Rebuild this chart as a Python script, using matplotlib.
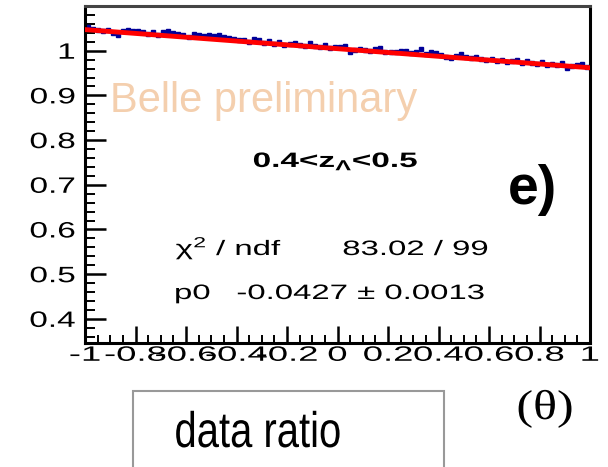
import numpy as np
import matplotlib
matplotlib.use('Agg')
import matplotlib.pyplot as plt
from matplotlib.ticker import MultipleLocator, FixedLocator, FuncFormatter
from matplotlib.patches import Rectangle
from matplotlib.patheffects import AbstractPathEffect
from matplotlib.transforms import Affine2D

plt.rcParams['font.family'] = ['Liberation Sans', 'DejaVu Sans']
plt.rcParams['mathtext.fontset'] = 'custom'
plt.rcParams['mathtext.rm'] = 'Liberation Sans'
plt.rcParams['mathtext.it'] = 'Liberation Sans:italic'
plt.rcParams['mathtext.bf'] = 'Liberation Sans:bold'

# bins en cos(theta)
x_lo = -1.0
x_hi = 1.0
n_bins = 100
ratio = [
    1.052, 1.049, 1.047, 1.045, 1.046, 1.040, 1.036, 1.045, 1.047, 1.043,
    1.044, 1.041, 1.038, 1.042, 1.034, 1.041, 1.043, 1.040, 1.038, 1.036,
    1.030, 1.037, 1.035, 1.033, 1.036, 1.032, 1.034, 1.031, 1.029, 1.026,
    1.025, 1.023, 1.020, 1.027, 1.024, 1.018, 1.021, 1.016, 1.020, 1.012,
    1.014, 1.017, 1.013, 1.010, 1.018, 1.011, 1.009, 1.012, 1.006, 1.008,
    1.009, 1.011, 0.996, 1.002, 1.004, 1.001, 0.999, 1.003, 1.005, 0.997,
    0.998, 0.996, 1.000, 0.999, 0.995, 0.997, 1.003, 0.993, 0.998, 0.994,
    0.990, 0.985, 0.984, 0.989, 0.992, 0.987, 0.983, 0.985, 0.981, 0.980,
    0.982, 0.976, 0.979, 0.975, 0.977, 0.980, 0.973, 0.976, 0.972, 0.970,
    0.974, 0.968, 0.971, 0.969, 0.972, 0.961, 0.966, 0.968, 0.970, 0.963,
]
ratio_err = 0.0035
y_ticks = [0.4, 0.5, 0.6, 0.7, 0.8, 0.9, 1.0]
x_ticks = [-1.0, -0.8, -0.6, -0.4, -0.2, 0.0, 0.2, 0.4, 0.6, 0.8, 1.0]

# parametres du fit
fit_const = 1.0045
fit_p0 = -0.0427
fit_p0_err = 0.0013
chi2 = 83.02
ndf = 99

W, H = 608, 467


class Stretch(AbstractPathEffect):
    # etire le texte horizontalement (le canevas d'origine etait etire)
    def __init__(self, sx, anchor='center'):
        super().__init__()
        self.sx = sx
        self.anchor = anchor

    def draw_path(self, renderer, gc, tpath, affine, rgbFace=None):
        ext = tpath.get_extents()
        if self.anchor == 'left':
            cx = ext.x0
        elif self.anchor == 'right':
            cx = ext.x1
        else:
            cx = 0.5 * (ext.x0 + ext.x1)
        t = Affine2D().translate(-cx, 0).scale(self.sx, 1).translate(cx, 0) + affine
        renderer.draw_path(gc, tpath, t, rgbFace)


def ftext(x, y, s, **kw):
    # position en pixels de l'image de reference
    return fig.text(x / W, 1 - y / H, s, **kw)


fig = plt.figure(figsize=(W / 100, H / 100), dpi=100)
ax = fig.add_axes([85 / W, (H - 343) / H, 505 / W, 337 / H])

edges = np.linspace(x_lo, x_hi, n_bins + 1)
centers = 0.5 * (edges[:-1] + edges[1:])
half_w = 0.5 * (edges[1] - edges[0])

ax.errorbar(centers, ratio, yerr=ratio_err, xerr=half_w * 0.7, fmt='s', ms=2.5,
            color='#000099', ecolor='#000099', elinewidth=1.2, capsize=0, zorder=2)

xf = np.array([x_lo, x_hi])
ax.plot(xf, fit_const + fit_p0 * xf, color='#ff0000', lw=3.5, zorder=3)

ax.set_xlim(x_lo, x_hi)
ax.set_ylim(0.346, 1.10)

ax.xaxis.set_major_locator(FixedLocator(x_ticks))
ax.xaxis.set_minor_locator(MultipleLocator(0.05))
ax.yaxis.set_major_locator(FixedLocator(y_ticks))
ax.yaxis.set_minor_locator(MultipleLocator(0.02))
ax.xaxis.set_major_formatter(FuncFormatter(lambda v, p: '%g' % round(v, 2)))
ax.yaxis.set_major_formatter(FuncFormatter(lambda v, p: '%g' % round(v, 2)))

ax.tick_params(axis='y', which='major', direction='in', length=15, width=1.8,
               labelsize=16, pad=7, right=False)
ax.tick_params(axis='y', which='minor', direction='in', length=7, width=1.4, right=False)
ax.tick_params(axis='x', which='major', direction='in', length=12, width=1.8,
               labelsize=15, pad=2, top=False)
ax.tick_params(axis='x', which='minor', direction='in', length=6, width=1.4, top=False)
for s in ax.spines.values():
    s.set_linewidth(2.2)
    s.set_color('black')
ax.spines['top'].set_color('#444444')

fig.canvas.draw()
for t in ax.yaxis.get_major_ticks():
    t.label1.set_path_effects([Stretch(1.5, 'right')])
for t in ax.xaxis.get_major_ticks():
    t.label1.set_path_effects([Stretch(1.75, 'center')])

# textes
ftext(110, 112, 'Belle preliminary', fontsize=30, color='#f4cfae',
      ha='left', va='baseline')
ftext(336, 167, r'0.4<z$_{\mathbf{\Lambda}}$<0.5', fontsize=15, fontweight='bold',
      ha='center', va='baseline', path_effects=[Stretch(1.6)])
ftext(532, 204, 'e)', fontsize=40, fontweight='bold', ha='center', va='baseline')
ftext(229, 255, r'$\mathrm{\chi}^{2}$ / ndf', fontsize=15, ha='center', va='baseline',
      path_effects=[Stretch(1.58)])
ftext(415.5, 255, '%.2f / %d' % (chi2, ndf), fontsize=15, ha='center',
      va='baseline', path_effects=[Stretch(1.58)])
ftext(192.5, 299, 'p0', fontsize=15, ha='center', va='baseline',
      path_effects=[Stretch(1.58)])
ftext(361, 299, '%.4f \u00b1 %.4f' % (fit_p0, fit_p0_err), fontsize=15,
      ha='center', va='baseline', path_effects=[Stretch(1.58)])

# boite "data ratio"
fig.patches.append(Rectangle((133 / W, -0.05), 311 / W, (H - 391) / H + 0.05,
                             transform=fig.transFigure, facecolor='white',
                             edgecolor='#999999', lw=1.5))
ftext(258, 447, 'data ratio', fontsize=36, ha='center', va='baseline',
      path_effects=[Stretch(0.8)])
ftext(545, 419, '(θ)', fontsize=30, ha='center', va='baseline', family='Liberation Serif',
      path_effects=[Stretch(1.2)])

fig.savefig('out.png', dpi=100)
